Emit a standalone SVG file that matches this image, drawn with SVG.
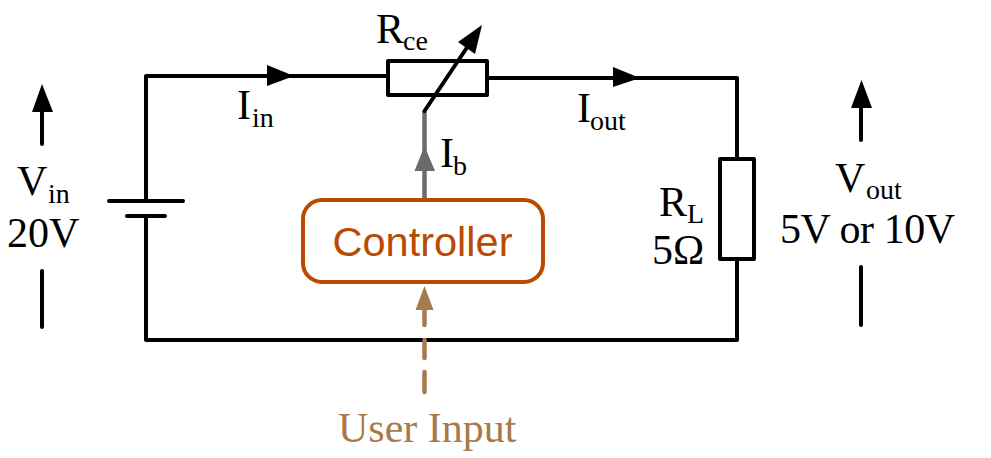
<svg xmlns="http://www.w3.org/2000/svg" width="991" height="458" viewBox="0 0 991 458">
<style>
.w{fill:none;stroke:#000;stroke-width:4;stroke-linecap:round;stroke-linejoin:round}
.p{fill:#fff;stroke:#000;stroke-width:4;stroke-linejoin:round}
.t{font-family:"Liberation Serif","Times New Roman",serif;font-size:42px;fill:#000}
.t.s{font-size:28px}
.u{fill:#a67a4b}
</style>
<rect width="991" height="458" fill="#fff"/>
<g id="connectors">
<path class="w" d="M388 76H146V201M146 216V340H737V259M737 159V78H487"/>
<polygon points="267,65 294,76 267,86"/>
<polygon points="613,67 640,78 613,87"/>
<path d="M424.500 200V111" fill="none" stroke="#6b6b6b" stroke-width="4.500"/>
<polygon points="424.500,146 435,171 414.500,171" fill="#6b6b6b"/>
<path d="M424.500 309V325M424.500 340V358M424.500 372V392" fill="none" stroke="#a67a4b" stroke-width="4.500" stroke-linecap="round"/>
<polygon class="u" points="424.500,286 433.500,310 415.500,310"/>
<path class="w" d="M42 112V144M42 271V327"/>
<polygon points="42,84 53,112 32,112"/>
<path class="w" d="M861 108V140M861 267V325"/>
<polygon points="861.500,80 872,108 851,108"/>
</g>
<g id="battery">
<path class="w" d="M109 201H183M127 216H165"/>
<text class="t" x="17" y="195">V</text><text class="t s" x="48" y="203">in</text>
<text class="t" x="7" y="247">20V</text>
</g>
<g id="rce">
<rect class="p" x="388" y="61" width="99" height="34"/>
<path class="w" d="M424.500 111L470 43"/>
<polygon points="482,25 475,54 458,42"/>
<text class="t" x="376" y="43">R</text><text class="t s" x="403" y="50">ce</text>
</g>
<g id="rl">
<rect class="p" x="720" y="159" width="34" height="100"/>
<text class="t" x="659" y="216">R</text><text class="t s" x="687" y="223">L</text>
<text class="t" x="652" y="264">5Ω</text>
</g>
<g id="controller">
<rect x="303" y="200" width="240" height="82" rx="19" fill="#fff" stroke="#b94a00" stroke-width="4"/>
<text x="422.500" y="256" text-anchor="middle" font-family="'Liberation Sans',Arial,sans-serif" font-size="41.500" fill="#b94a00">Controller</text>
</g>
<g id="labels">
<text class="t" x="237" y="119">I</text><text class="t s" x="252" y="127">in</text>
<text class="t" x="577" y="122">I</text><text class="t s" x="590" y="130">out</text>
<text class="t" x="440" y="167">I</text><text class="t s" x="453" y="175">b</text>
<text class="t" x="835" y="192">V</text><text class="t s" x="866" y="199">out</text>
<text class="t" x="780" y="243" textLength="175" lengthAdjust="spacing">5V or 10V</text>
<text class="t" x="338" y="442" style="fill:#a67a4b">User Input</text>
</g>
</svg>
